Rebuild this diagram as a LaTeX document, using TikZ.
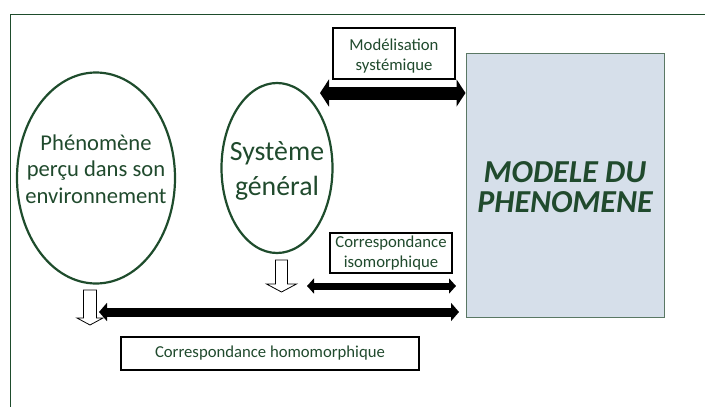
\documentclass[tikz,border=0pt]{standalone}
\usepackage{fontspec}
\setmainfont{Carlito}
\usepackage{tikz}
\usetikzlibrary{shapes.geometric,arrows.meta,calc}
\definecolor{dkgreen}{RGB}{30,76,44}
\definecolor{txtgreen}{RGB}{32,74,45}
\definecolor{modelfill}{RGB}{214,223,234}
\definecolor{modelline}{RGB}{90,120,100}
% hollow arrow pointing down: (x, top, base, tip, shaft half, head half)
\def\hollowdown(#1,#2,#3,#4:#5:#6){\draw[black,fill=white,line width=0.8pt]
  (#1-#5,#2) -- (#1+#5,#2) -- (#1+#5,#3) -- (#1+#6,#3) -- (#1,#4) -- (#1-#6,#3) -- (#1-#5,#3) -- cycle}

\begin{document}
\begin{tikzpicture}[x=1pt,y=-1pt,
    oval/.style={ellipse,draw=dkgreen,line width=2.2pt,inner sep=0pt,text=txtgreen,align=center},
    tagbox/.style={draw=black,line width=2pt,fill=white,inner sep=0pt,text=txtgreen,align=center,
      font=\fontsize{16.7}{19.5}\selectfont},
    fatarrow/.style={line width=#1,black,{Triangle[length=9pt,width=27pt]}-{Triangle[length=9pt,width=27pt]}}
  ]
    \useasboundingbox (0,0) rectangle (705,407);
    \draw[dkgreen,line width=1pt] (10,407) -- (10,14) -- (705,14);

    % the two ovals
    \node[oval,minimum width=158,minimum height=211] (phen) at (96,178) {};
    \node[text=txtgreen,align=center,font=\fontsize{22.6}{26.5}\selectfont] (phentxt) at ([yshift=9pt]phen.center)
        {Phénomène\\perçu dans son\\environnement};
    \node[oval,minimum width=111,minimum height=170] (sys) at (277,168) {};
    \node[text=txtgreen,align=center,font=\fontsize{27.8}{35}\selectfont] (systxt) at ([yshift=-3pt]sys.center)
        {Système\\général};

    % the model
    \node[draw=modelline,line width=1pt,fill=modelfill,minimum width=198,minimum height=264,inner sep=0pt] (model) at (565,185) {};
    \node[text=txtgreen,align=center,font=\fontsize{32}{30}\selectfont\bfseries\itshape] (modeltxt) at ([yshift=-2pt]model.center)
        {MODELE DU\\PHENOMENE};

    % labels
    \node[tagbox,minimum width=122,minimum height=51] (modsys) at (394,53.5) {};
    \node[text=txtgreen,align=center,font=\fontsize{16.7}{20}\selectfont] at ([yshift=-2.5pt]modsys.center) {Modélisation\\systémique};
    \node[tagbox,minimum width=122,minimum height=40] (iso) at (391,253) {Correspondance\\isomorphique};
    \node[tagbox,minimum width=298,minimum height=33] (homo) at (270,353.5) {Correspondance homomorphique};

    % double arrows
    \coordinate (a1) at (320,93);
    \coordinate (a2) at (307,286);
    \coordinate (a2e) at (456,286);
    \coordinate (a3) at (99,312);
    \coordinate (a3e) at (459,312);
    \draw[fatarrow=13pt] (a1) -- (a1 -| model.west);
    \draw[line width=7pt,black,{Triangle[length=7pt,width=15pt]}-{Triangle[length=7pt,width=15pt]}] (a2) -- (a2e);
    \draw[line width=9pt,black,{Triangle[length=8pt,width=18pt]}-{Triangle[length=8pt,width=18pt]}] (a3) -- (a3e);

    % hollow arrows
    \hollowdown(90,290,318,325:6.5:13);
    \hollowdown(281.5,260,284,292:6:15);
\end{tikzpicture}
\end{document}
